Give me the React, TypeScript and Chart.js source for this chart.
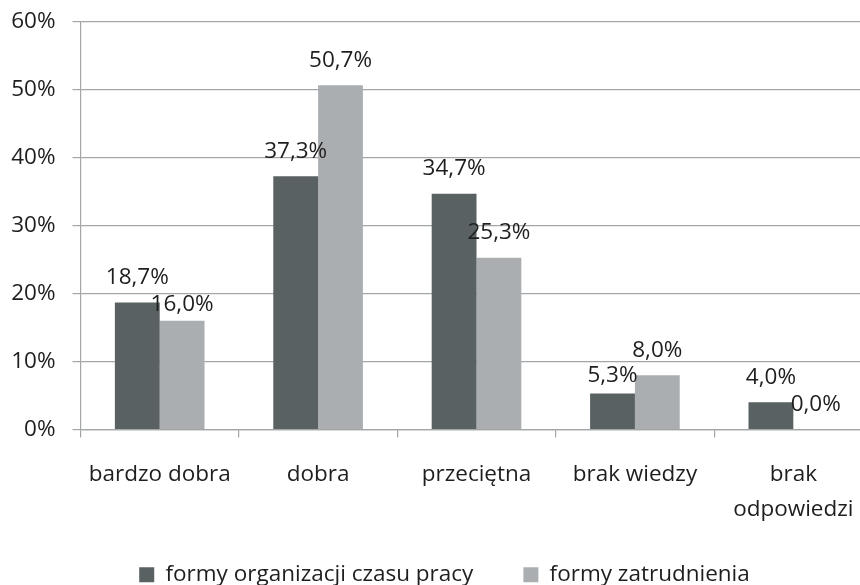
import React, { useEffect, useRef } from "react";
import { Chart, registerables } from "chart.js";

Chart.register(...registerables);

const categories: (string | string[])[] = [
  "bardzo dobra",
  "dobra",
  "przeciętna",
  "brak wiedzy",
  ["brak", "odpowiedzi"],
];
const seriesNames = ["formy organizacji czasu pracy", "formy zatrudnienia"];
const organizacjiValues = [18.7, 37.3, 34.7, 5.3, 4.0];
const zatrudnieniaValues = [16.0, 50.7, 25.3, 8.0, 0.0];
const yTicks = [0, 10, 20, 30, 40, 50, 60];

const FONT = "'Open Sans', 'Noto Sans', sans-serif";
const FS = 22.5;
const TEXT = "#1e1e1e";
const GRID = "#a3a6a9";
const DARK = "#5a6163";
const LIGHT = "#abaeb1";

const fmt = (v: number) => v.toFixed(1).replace(".", ",") + "%";

const valueLabels = {
  id: "valueLabels",
  beforeDraw(chart: any) {
    // let axis labels draw outside the axis boxes (avoid clipping)
    if (chart.scales.x) chart.scales.x.bottom = chart.height;
    if (chart.scales.y) chart.scales.y.left = 0;
  },
  afterDatasetsDraw(chart: any) {
    const ctx = chart.ctx;
    ctx.save();
    ctx.font = `${FS}px ${FONT}`;
    ctx.fillStyle = TEXT;
    ctx.textAlign = "center";
    ctx.textBaseline = "middle";
    const nudge: Record<string, number> = { "1-0": 9, "0-3": 7 };
    chart.data.datasets.forEach((ds: any, di: number) => {
      const meta = chart.getDatasetMeta(di);
      meta.data.forEach((bar: any, i: number) => {
        const v = ds.data[i];
        const dy = nudge[`${di}-${i}`] || 0;
        ctx.fillText(fmt(v), bar.x, bar.y - 25 + dy);
      });
    });
    ctx.restore();
  },
};

export default function App() {
  const ref = useRef<HTMLCanvasElement>(null);
  useEffect(() => {
    if (!ref.current) return;
    const chart = new Chart(ref.current, {
      type: "bar",
      data: {
        labels: categories as any,
        datasets: [
          {
            label: seriesNames[0],
            data: organizacjiValues,
            backgroundColor: DARK,
            borderWidth: 0,
          },
          {
            label: seriesNames[1],
            data: zatrudnieniaValues,
            backgroundColor: LIGHT,
            borderWidth: 0,
          },
        ],
      },
      options: {
        animation: false,
        responsive: false,
        devicePixelRatio: 1,
        layout: { padding: { left: 16, right: 0, top: 22, bottom: 0 } },
        datasets: {
          bar: { categoryPercentage: 0.566, barPercentage: 1 },
        },
        plugins: {
          tooltip: { enabled: false },
          legend: {
            position: "bottom",
            labels: {
              color: TEXT,
              font: { family: FONT, size: FS },
              boxWidth: 15,
              boxHeight: 15,
              padding: 50,
            },
          },
        },
        scales: {
          x: {
            afterFit: (s: any) => {
              s.height = 84;
            },
            grid: {
              display: true,
              drawOnChartArea: false,
              drawTicks: true,
              tickLength: 8,
              color: GRID,
              lineWidth: 1.2,
              offset: true,
            },
            border: { display: true, color: GRID, width: 1.2 },
            ticks: {
              color: TEXT,
              font: { family: FONT, size: FS, lineHeight: 35 / FS },
              padding: 19.5,
              maxRotation: 0,
              autoSkip: false,
            },
          },
          y: {
            min: 0,
            max: 60,
            afterFit: (s: any) => {
              s.width = 64.5;
              s.paddingTop = 0;
              s.paddingBottom = 0;
            },
            afterBuildTicks: (s: any) => {
              s.ticks = yTicks.map((v) => ({ value: v }));
            },
            grid: {
              color: GRID,
              lineWidth: 1.2,
              tickLength: 8,
            },
            border: { display: true, color: GRID, width: 1.2 },
            ticks: {
              color: TEXT,
              font: { family: FONT, size: FS },
              padding: 17,
              callback: (v: any) => `${v}%`,
            },
          },
        },
      },
      plugins: [valueLabels],
    });
    return () => chart.destroy();
  }, []);
  return (
    <div
      style={{
        position: "fixed",
        left: 0,
        top: 0,
        width: 860,
        height: 585,
        overflow: "hidden",
        background: "#fff",
      }}
    >
      <canvas ref={ref} width={873} height={596} style={{ display: "block" }} />
    </div>
  );
}
